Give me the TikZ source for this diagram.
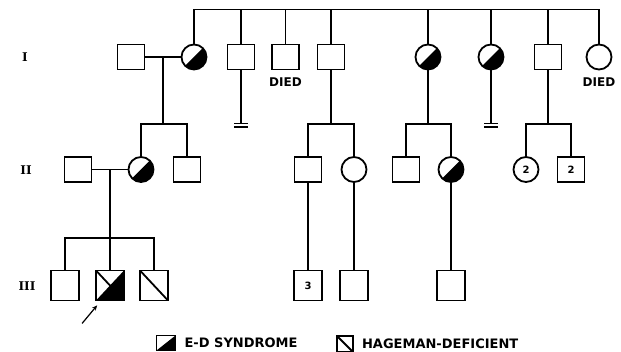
\documentclass[tikz,border=0pt]{standalone}
\usepackage{fontspec}
\newfontfamily\pedfont{DejaVu Sans}
\newfontfamily\genfont{DejaVu Serif}
\usetikzlibrary{positioning,calc,arrows.meta}
\tikzset{MALE/.style={rectangle,draw,line width=1.8pt,minimum width=27pt,minimum height=25pt,inner sep=0pt,font=\pedfont\bfseries\fontsize{10}{10}\selectfont}}
\tikzset{MALE3/.style={MALE,minimum width=28pt,minimum height=30pt}}
\tikzset{FEMALE/.style={circle,draw,line width=1.8pt,minimum size=25pt,inner sep=0pt,font=\pedfont\bfseries\fontsize{10}{10}\selectfont}}
\tikzset{ED/.style={path picture={\fill (path picture bounding box.south west) -- (path picture bounding box.north east) -- (path picture bounding box.south east) -- cycle;}}}
\tikzset{HAGEMAN/.style={path picture={\draw[line width=1.8pt] (path picture bounding box.north west) -- (path picture bounding box.south east);}}}
\tikzset{PROBAND/.style={path picture={
    \fill (path picture bounding box.south west) -- (path picture bounding box.north east) -- (path picture bounding box.south east) -- cycle;
    \draw[line width=1.8pt] (path picture bounding box.north west) -- (path picture bounding box.south east);}}}
\tikzset{LINE/.style={line width=1.8pt}}
\tikzset{DIED/.style={font=\pedfont\bfseries\fontsize{12}{12}\selectfont, inner sep=0pt}}
\tikzset{GEN/.style={font=\genfont\bfseries\fontsize{12}{12}\selectfont, inner sep=0pt}}
\tikzset{KEYTEXT/.style={font=\pedfont\bfseries\fontsize{13}{14}\selectfont, inner sep=0pt, anchor=west}}

\begin{document}
\begin{tikzpicture}[x=1pt,y=1pt]
\useasboundingbox (0,0) rectangle (621,-352);

% generation labels
\node[GEN] (n_gen_i) at (25,-57) {I};
\node[GEN] (n_gen_ii) at (26,-170) {II};
\node[GEN] (n_gen_iii) at (27,-286) {III};

% generation I
\node[MALE] (n_i1) at (131,-57) {};
\node[FEMALE, ED] (n_i2) at (194,-57) {};
\node[MALE] (n_i3) at (241,-57) {};
\node[MALE] (n_i4) at (285.5,-57) {};
\node[MALE] (n_i5) at (331,-57) {};
\node[FEMALE, ED] (n_i6) at (428,-57) {};
\node[FEMALE, ED] (n_i7) at (491,-57) {};
\node[MALE] (n_i8) at (548,-57) {};
\node[FEMALE] (n_i9) at (599,-57) {};
\node[DIED] (n_died1) at ($(n_i4.south)+(0,-12)$) {DIED};
\node[DIED] (n_died2) at ($(n_i9.south)+(0,-12)$) {DIED};

\coordinate (c_top) at ($(n_i2.north)+(0,34)$);
\draw[LINE] (n_i2.north) |- ($(c_top-|n_i9)$) -- (n_i9.north);
\foreach \n in {n_i3,n_i4,n_i5,n_i6,n_i7,n_i8}
    \draw[LINE] (\n.north) -- (\n.north|-c_top);

% generation II
\node[MALE] (n_ii1) at (78,-169.5) {};
\node[FEMALE, ED] (n_ii2) at (141,-169.5) {};
\node[MALE] (n_ii3) at (187,-169.5) {};
\node[MALE] (n_ii4) at (308,-169.5) {};
\node[FEMALE] (n_ii5) at (354,-169.5) {};
\node[MALE] (n_ii6) at (406,-169.5) {};
\node[FEMALE, ED] (n_ii7) at (451,-169.5) {};
\node[FEMALE] (n_ii8) at (526,-169.5) {2};
\node[MALE] (n_ii9) at (571,-169.5) {2};

\draw[LINE] (n_i1.east) -- (n_i2.west);
\coordinate (c_sib_a) at (163,-124);
\draw[LINE] (c_sib_a) -- (c_sib_a|-n_i1.east);
\draw[LINE] (n_ii2.north) |- (c_sib_a) -| (n_ii3.north);

\coordinate (c_sib_b) at ($(n_i5)+(0,-67)$);
\draw[LINE] (n_i5.south) -- (c_sib_b);
\draw[LINE] (n_ii4.north) |- (c_sib_b) -| (n_ii5.north);

\coordinate (c_sib_c) at ($(n_i6)+(0,-67)$);
\draw[LINE] (n_i6.south) -- (c_sib_c);
\draw[LINE] (n_ii6.north) |- (c_sib_c) -| (n_ii7.north);

\coordinate (c_sib_d) at ($(n_i8)+(0,-67)$);
\draw[LINE] (n_i8.south) -- (c_sib_d);
\draw[LINE] (n_ii8.north) |- (c_sib_d) -| (n_ii9.north);

% no offspring
\foreach \n in {n_i3,n_i7} {
    \coordinate (c_end) at ($(\n)+(0,-66.5)$);
    \draw[LINE] (\n.south) -- (c_end);
    \draw[LINE] ($(c_end)+(-7,0)$) -- ($(c_end)+(7,0)$);
    \draw[LINE] ($(c_end)+(-7,-3.5)$) -- ($(c_end)+(7,-3.5)$);
}

% generation III
\node[MALE3] (n_iii1) at (65,-285.5) {};
\node[MALE3, PROBAND] (n_iii2) at (110,-285.5) {};
\node[MALE3, HAGEMAN] (n_iii3) at (154,-285.5) {};
\node[MALE3] (n_iii4) at (308,-285.5) {3};
\node[MALE3] (n_iii5) at (354,-285.5) {};
\node[MALE3] (n_iii6) at (451,-285.5) {};

\draw[LINE] (n_ii1.east) -- (n_ii2.west);
\coordinate (c_sib_e) at (110,-238);
\draw[LINE] (c_sib_e|-n_ii1.east) -- (n_iii2.north);
\draw[LINE] (n_iii1.north) |- (c_sib_e) -| (n_iii3.north);

\draw[LINE] (n_ii4.south) -- (n_iii4.north);
\draw[LINE] (n_ii5.south) -- (n_iii5.north);
\draw[LINE] (n_ii7.south) -- (n_iii6.north);

\coordinate (c_arrow) at ($(n_iii2.south west)+(-13,-22)$);
\draw[line width=1.2pt, -{Stealth[length=5pt,width=4.5pt]}] (c_arrow) -- ($(n_iii2.south west)+(2,-4)$);

% key
\node[MALE, minimum width=19pt, minimum height=15pt, ED] (n_key_ed) at (166,-343) {};
\node[KEYTEXT, right=8pt of n_key_ed] (n_key_ed_txt) {E-D SYNDROME};
\node[MALE, minimum width=16pt, minimum height=16pt, HAGEMAN] (n_key_hag) at (345,-344) {};
\node[KEYTEXT, right=8pt of n_key_hag] (n_key_hag_txt) {HAGEMAN-DEFICIENT};

\end{tikzpicture}
\end{document}
